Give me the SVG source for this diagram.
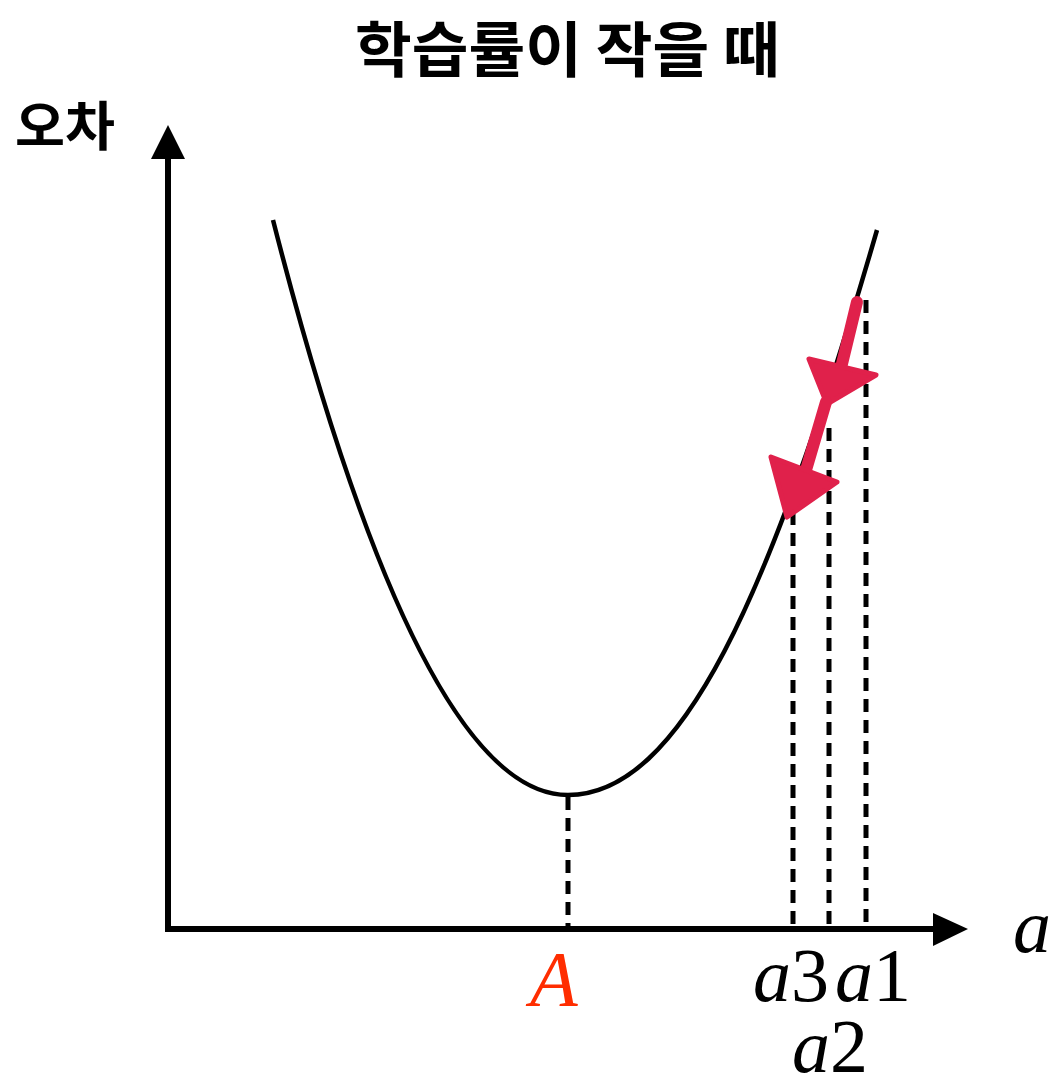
<svg xmlns="http://www.w3.org/2000/svg" width="1055" height="1081" viewBox="0 0 1055 1081">
<style>
.title{font-family:"Noto Sans CJK KR","Noto Sans",sans-serif;font-weight:bold;fill:#000}
.lab{font-family:"Liberation Serif",serif;font-style:italic;fill:#000}
.num{font-family:"Liberation Serif",serif;font-style:normal;fill:#000}
.axis{stroke:#000;stroke-width:6;fill:none}
.dash{stroke:#000;stroke-width:5;stroke-dasharray:13 8;fill:none}
.red{fill:#E0214B;stroke:#E0214B;stroke-linejoin:round}
</style>
<rect width="1055" height="1081" fill="#fff"/>
<text class="title" x="355" y="72" font-size="60" textLength="425" lengthAdjust="spacingAndGlyphs">학습률이 작을 때</text>
<text class="title" x="15" y="146" font-size="53" textLength="100" lengthAdjust="spacingAndGlyphs">오차</text>
<g id="axes">
<line class="axis" x1="168" y1="155" x2="168" y2="932"/>
<polygon points="168,125 151,159 185,159" fill="#000"/>
<line class="axis" x1="165" y1="929" x2="936" y2="929"/>
<polygon points="968,929 933,913 933,946" fill="#000"/>
</g>
<g id="curve">
<path d="M273,220 Q420,795 568,795 C680,795 770,600 877,230" stroke="#000" stroke-width="4.5" fill="none"/>
</g>
<g id="connectors">
<line class="dash" x1="568" y1="797" x2="568" y2="927"/>
<line class="dash" x1="793" y1="512" x2="793" y2="927"/>
<line class="dash" x1="829" y1="428" x2="829" y2="927"/>
<line class="dash" x1="866" y1="300" x2="866" y2="927"/>
</g>
<g id="arrows">
<line x1="857" y1="302" x2="840" y2="372" stroke="#E0214B" stroke-width="12" stroke-linecap="round"/>
<polygon class="red" stroke-width="5" points="809,359 876,375 827,404"/>
<line x1="826" y1="402" x2="806" y2="470" stroke="#E0214B" stroke-width="12" stroke-linecap="round"/>
<polygon class="red" stroke-width="5" points="771,457 837,482 787,517"/>
</g>
<g id="labels">
<text class="lab" x="1013" y="952" font-size="76">a</text>
<text class="lab" x="530" y="1005" font-size="78" style="fill:#FF2D00">A</text>
<text class="lab" x="753" y="1001" font-size="76">a<tspan class="num">3</tspan></text>
<text class="lab" x="835" y="1001" font-size="76">a<tspan class="num">1</tspan></text>
<text class="lab" x="792" y="1072" font-size="76">a<tspan class="num">2</tspan></text>
</g>
</svg>
